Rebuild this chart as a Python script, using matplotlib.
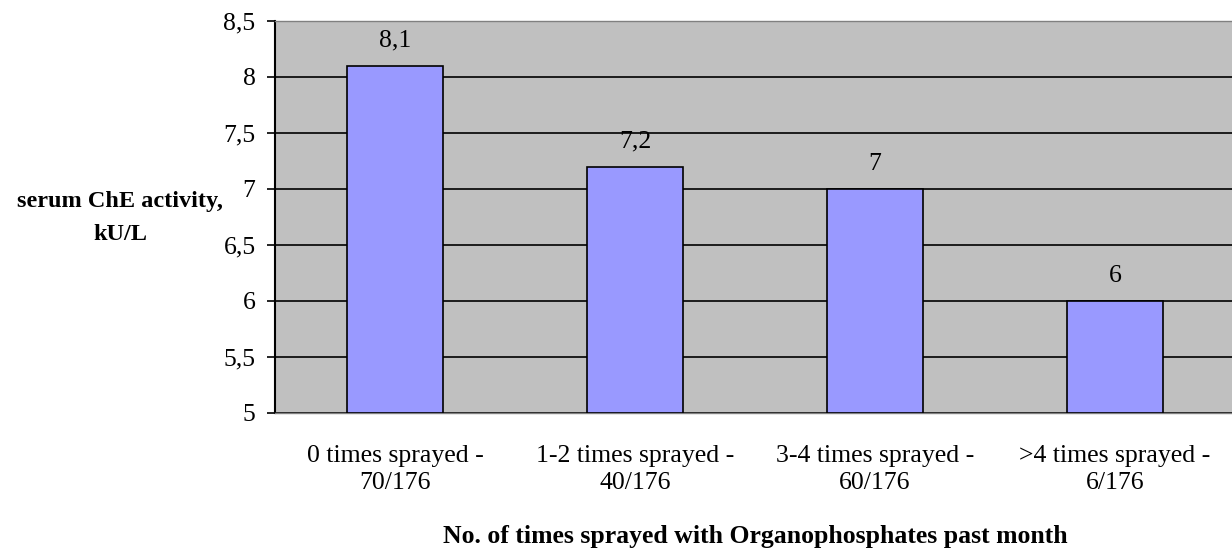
import matplotlib
matplotlib.use('Agg')
import matplotlib.pyplot as plt
from matplotlib.ticker import FuncFormatter

categories = ['0 times sprayed -\n70/176', '1-2 times sprayed -\n40/176',
              '3-4 times sprayed -\n60/176', '>4 times sprayed -\n6/176']
che_activity = [8.1, 7.2, 7.0, 6.0]
y_ticks = [5, 5.5, 6, 6.5, 7, 7.5, 8, 8.5]

plt.rcParams['font.family'] = ['Liberation Serif', 'DejaVu Serif']
FS = 18.5


def comma(v, pos=None):
    s = f'{v:g}'
    return s.replace('.', ',')


fig = plt.figure(figsize=(12.32, 5.48), dpi=100)
ax = fig.add_axes([275 / 1232, (548 - 413) / 548, 960 / 1232, 392 / 548])
ax.set_facecolor('#C0C0C0')

x = range(len(categories))
ax.bar(x, [v - 5 for v in che_activity], bottom=5, width=0.4,
       color='#9999FF', edgecolor='black', linewidth=1.2, zorder=3)

for xi, v in zip(x, che_activity):
    ax.annotate(comma(v), (xi, v), xytext=(0, 10), textcoords='offset points',
                ha='center', va='bottom', fontsize=FS)

ax.set_xlim(-0.5, len(categories) - 0.5)
ax.set_ylim(5, 8.5)
ax.set_yticks(y_ticks)
ax.yaxis.set_major_formatter(FuncFormatter(comma))
ax.yaxis.grid(True, color='black', linewidth=1.2, zorder=1)
ax.set_axisbelow(True)
ax.set_xticks(list(x))
ax.set_xticklabels(categories, fontsize=FS, linespacing=1.28)
ax.tick_params(axis='x', length=0, pad=23)
ax.tick_params(axis='y', labelsize=FS, length=6, width=1.2, color='black', pad=8)

for side in ['top', 'bottom']:
    ax.spines[side].set_color('#808080')
    ax.spines[side].set_linewidth(1)
ax.spines['right'].set_visible(False)
ax.spines['left'].set_color('black')
ax.spines['left'].set_linewidth(1.5)

fig.text(120 / 1232, 1 - 218 / 548, 'serum ChE activity,\nkU/L', ha='center', va='center',
         fontsize=17.5, fontweight='bold', linespacing=1.8)
fig.text(755 / 1232, 1 - 537 / 548, 'No. of times sprayed with Organophosphates past month',
         ha='center', va='center', fontsize=FS, fontweight='bold')

fig.savefig('out.png', dpi=100)
